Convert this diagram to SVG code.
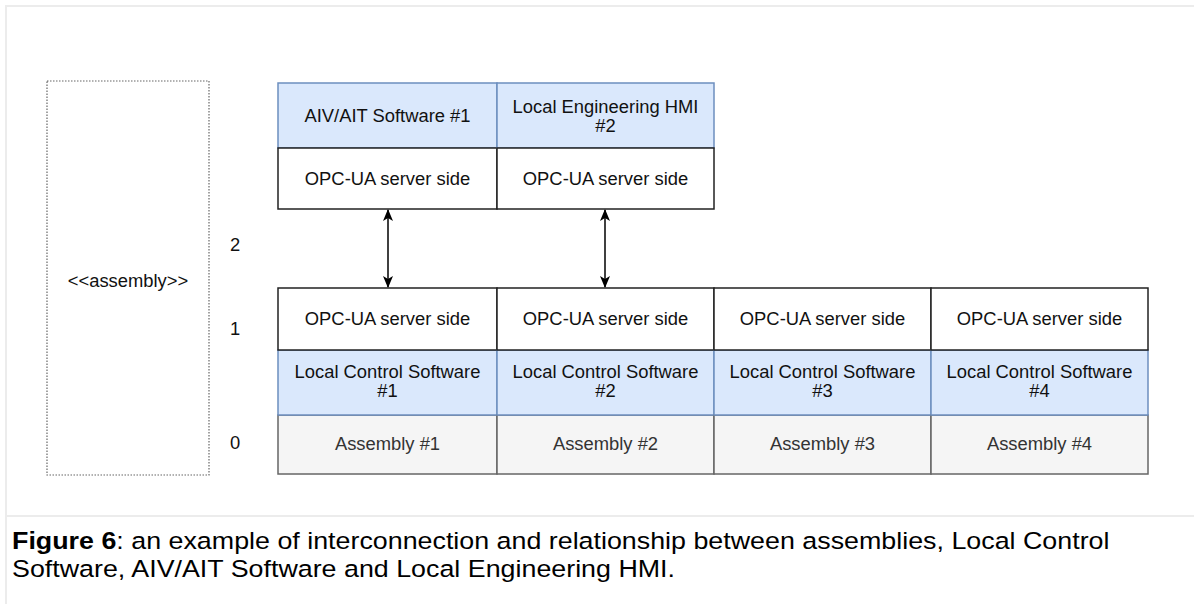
<svg xmlns="http://www.w3.org/2000/svg" width="1194" height="604" viewBox="0 0 1194 604">
<defs>
<marker id="ah" viewBox="0 0 12 10" refX="11" refY="5" markerWidth="12" markerHeight="10" markerUnits="userSpaceOnUse" orient="auto-start-reverse">
<path d="M0,0 L12,5 L0,10 L3,5 z" fill="#000"/>
</marker>
<style>
.t{font-family:"Liberation Sans",Arial,Helvetica,sans-serif;font-size:17.5px;fill:#111;text-anchor:middle}
.ta{fill:#333}
.cap{font-family:"Liberation Sans",Arial,Helvetica,sans-serif;font-size:24.5px;fill:#000}
.blue{fill:#dae8fc;stroke:#6c8ebf;stroke-width:1.5}
.white{fill:#fff;stroke:#222;stroke-width:1.5}
.gray{fill:#f5f5f5;stroke:#666;stroke-width:1.5}
.conn{stroke:#000;stroke-width:1.5;fill:none}
</style>
</defs>
<rect width="1194" height="604" fill="#fff"/>
<g id="frame">
<rect x="6" y="6" width="1200" height="610" fill="none" stroke="#ececec" stroke-width="2"/>
<line x1="6" y1="516" x2="1194" y2="516" stroke="#ececec" stroke-width="2"/>
</g>
<g id="assembly-stereotype">
<rect x="47" y="81" width="162" height="394" fill="none" stroke="#666" stroke-width="1.2" stroke-dasharray="1.5 1.5"/>
<text class="t" transform="translate(128,287) scale(1.05,1)">&lt;&lt;assembly&gt;&gt;</text>
</g>
<g id="levels">
<text class="t" transform="translate(235,251) scale(1.05,1)">2</text>
<text class="t" transform="translate(235,335) scale(1.05,1)">1</text>
<text class="t" transform="translate(235,449) scale(1.05,1)">0</text>
</g>
<g id="aiv">
<rect class="blue" x="278" y="83" width="219" height="65"/>
<rect class="white" x="278" y="148" width="219" height="61"/>
<text class="t" transform="translate(387.5,122) scale(1.05,1)">AIV/AIT Software #1</text>
<text class="t" transform="translate(387.5,185) scale(1.05,1)">OPC-UA server side</text>
</g>
<g id="hmi">
<rect class="blue" x="497" y="83" width="217" height="65"/>
<rect class="white" x="497" y="148" width="217" height="61"/>
<text class="t" transform="translate(605.5,113) scale(1.05,1)">Local Engineering HMI</text>
<text class="t" transform="translate(605.5,132) scale(1.05,1)">#2</text>
<text class="t" transform="translate(605.5,185) scale(1.05,1)">OPC-UA server side</text>
</g>
<g id="col1">
<rect class="gray" x="278" y="415" width="219" height="59"/>
<rect class="blue" x="278" y="350" width="219" height="65"/>
<rect class="white" x="278" y="288" width="219" height="62"/>
<text class="t" transform="translate(387.5,325) scale(1.05,1)">OPC-UA server side</text>
<text class="t" transform="translate(387.5,378) scale(1.05,1)">Local Control Software</text>
<text class="t" transform="translate(387.5,397) scale(1.05,1)">#1</text>
<text class="t ta" transform="translate(387.5,450) scale(1.05,1)">Assembly #1</text>
</g>
<g id="col2">
<rect class="gray" x="497" y="415" width="217" height="59"/>
<rect class="blue" x="497" y="350" width="217" height="65"/>
<rect class="white" x="497" y="288" width="217" height="62"/>
<text class="t" transform="translate(605.5,325) scale(1.05,1)">OPC-UA server side</text>
<text class="t" transform="translate(605.5,378) scale(1.05,1)">Local Control Software</text>
<text class="t" transform="translate(605.5,397) scale(1.05,1)">#2</text>
<text class="t ta" transform="translate(605.5,450) scale(1.05,1)">Assembly #2</text>
</g>
<g id="col3">
<rect class="gray" x="714" y="415" width="217" height="59"/>
<rect class="blue" x="714" y="350" width="217" height="65"/>
<rect class="white" x="714" y="288" width="217" height="62"/>
<text class="t" transform="translate(822.5,325) scale(1.05,1)">OPC-UA server side</text>
<text class="t" transform="translate(822.5,378) scale(1.05,1)">Local Control Software</text>
<text class="t" transform="translate(822.5,397) scale(1.05,1)">#3</text>
<text class="t ta" transform="translate(822.5,450) scale(1.05,1)">Assembly #3</text>
</g>
<g id="col4">
<rect class="gray" x="931" y="415" width="217" height="59"/>
<rect class="blue" x="931" y="350" width="217" height="65"/>
<rect class="white" x="931" y="288" width="217" height="62"/>
<text class="t" transform="translate(1039.5,325) scale(1.05,1)">OPC-UA server side</text>
<text class="t" transform="translate(1039.5,378) scale(1.05,1)">Local Control Software</text>
<text class="t" transform="translate(1039.5,397) scale(1.05,1)">#4</text>
<text class="t ta" transform="translate(1039.5,450) scale(1.05,1)">Assembly #4</text>
</g>
<g id="connectors">
<line class="conn" x1="388" y1="210" x2="388" y2="287" marker-start="url(#ah)" marker-end="url(#ah)"/>
<line class="conn" x1="605" y1="210" x2="605" y2="287" marker-start="url(#ah)" marker-end="url(#ah)"/>
</g>
<g id="caption">
<text class="cap" transform="translate(12,549) scale(1.095,1)"><tspan font-weight="bold">Figure 6</tspan>: an example of interconnection and relationship between assemblies, Local Control</text>
<text class="cap" transform="translate(12,577) scale(1.095,1)">Software, AIV/AIT Software and Local Engineering HMI.</text>
</g>
</svg>
